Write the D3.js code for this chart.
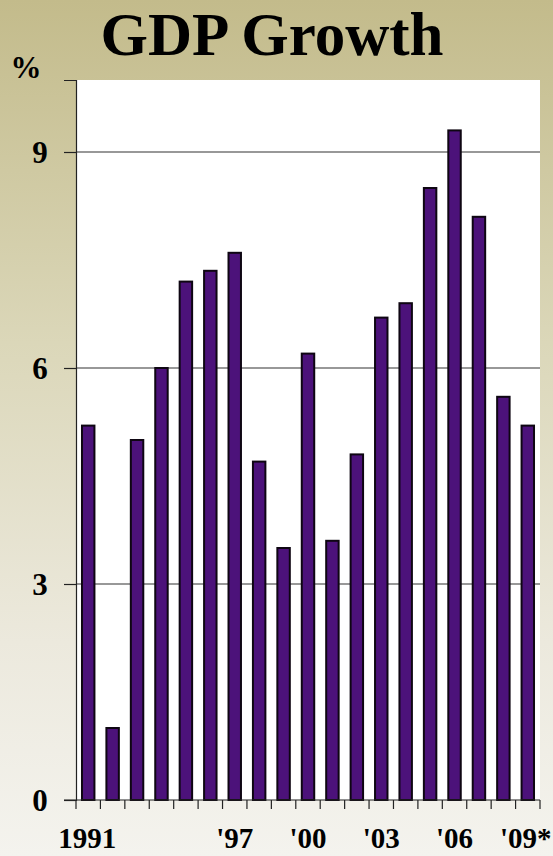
<!DOCTYPE html>
<html>
<head>
<meta charset="utf-8">
<script src="https://cdn.jsdelivr.net/npm/d3@7"></script>
<style>
  html, body { margin: 0; padding: 0; }
  body { width: 553px; height: 856px; overflow: hidden; }
</style>
</head>
<body>
<div id="chart"></div>
<script>
// data
const years = ["1991","1992","1993","1994","1995","1996","1997","1998","1999","2000",
               "2001","2002","2003","2004","2005","2006","2007","2008","2009"];
const growth = [5.2, 1.0, 5.0, 6.0, 7.2, 7.35, 7.6, 4.7, 3.5, 6.2,
                3.6, 4.8, 6.7, 6.9, 8.5, 9.3, 8.1, 5.6, 5.2];
const yTicks = [0, 3, 6, 9];
const xLabels = {"1991": "1991", "1997": "'97", "2000": "'00", "2003": "'03", "2006": "'06", "2009": "'09*"};

const W = 553, H = 856;
const plot = { left: 76, right: 540, top: 80, bottom: 800 };
const FONT = "Liberation Serif";

const svg = d3.select("#chart").append("svg")
  .attr("width", W).attr("height", H);

const defs = svg.append("defs");
const grad = defs.append("linearGradient").attr("id", "bg")
  .attr("x1", 0).attr("y1", 0).attr("x2", 0).attr("y2", 1);
grad.append("stop").attr("offset", "0%").attr("stop-color", "#c3bb8b");
grad.append("stop").attr("offset", "40%").attr("stop-color", "#dbd7b9");
grad.append("stop").attr("offset", "75%").attr("stop-color", "#ece9dd");
grad.append("stop").attr("offset", "100%").attr("stop-color", "#f4f3ee");

svg.append("rect").attr("width", W).attr("height", H).attr("fill", "url(#bg)");

// plot area
svg.append("rect")
  .attr("x", plot.left).attr("y", plot.top)
  .attr("width", plot.right - plot.left).attr("height", plot.bottom - plot.top)
  .attr("fill", "#fff");

const x = d3.scaleBand().domain(years).range([plot.left, plot.right]).paddingInner(0.49).paddingOuter(0.245);
const y = d3.scaleLinear().domain([0, 10]).range([plot.bottom, plot.top]);

const band = d3.scaleBand().domain(years).range([plot.left, plot.right]);

// gridlines
svg.append("g").selectAll("line")
  .data(yTicks.filter(d => d > 0))
  .join("line")
  .attr("x1", plot.left).attr("x2", plot.right)
  .attr("y1", d => y(d)).attr("y2", d => y(d))
  .attr("stroke", "#333").attr("stroke-width", 1.2);

// bars
svg.append("g").selectAll("rect")
  .data(years)
  .join("rect")
  .attr("x", d => x(d))
  .attr("y", (d, i) => y(growth[i]))
  .attr("width", x.bandwidth())
  .attr("height", (d, i) => plot.bottom - y(growth[i]))
  .attr("fill", "#4c127a")
  .attr("stroke", "#0e0612")
  .attr("stroke-width", 2);

// y axis
const yAxis = svg.append("g")
  .attr("transform", `translate(${plot.left},0)`)
  .call(d3.axisLeft(y).tickValues(yTicks).tickSize(12).tickFormat(""));
yAxis.select(".domain").attr("stroke", "#222").attr("stroke-width", 1.2);
yAxis.selectAll(".tick line").attr("stroke", "#222").attr("stroke-width", 1.2);

svg.append("g").selectAll("text")
  .data(yTicks)
  .join("text")
  .attr("x", 40).attr("y", d => y(d) + 11)
  .attr("text-anchor", "middle")
  .attr("font-family", FONT).attr("font-weight", "bold")
  .attr("font-size", 31)
  .text(d => d);

// x axis with ticks at band boundaries
const xAxis = svg.append("g").attr("transform", `translate(0,${plot.bottom})`);
xAxis.append("line").attr("x1", plot.left - 12).attr("x2", plot.right)
  .attr("stroke", "#222").attr("stroke-width", 1.2);
xAxis.selectAll("line.tk")
  .data(years.concat(["end"]))
  .join("line").attr("class", "tk")
  .attr("x1", d => d === "end" ? plot.right : band(d))
  .attr("x2", d => d === "end" ? plot.right : band(d))
  .attr("y1", 0).attr("y2", 9)
  .attr("stroke", "#222").attr("stroke-width", 1.2);

svg.append("g").selectAll("text")
  .data(years.filter(d => xLabels[d]))
  .join("text")
  .attr("x", d => band(d) + band.bandwidth() / 2 + (d === "2009" ? -2 : d === "1991" ? -1 : 0))
  .attr("y", 848)
  .attr("text-anchor", "middle")
  .attr("font-family", FONT).attr("font-weight", "bold")
  .attr("font-size", 29)
  .text(d => xLabels[d]);

// % unit
svg.append("text")
  .attr("x", 26).attr("y", 78)
  .attr("text-anchor", "middle")
  .attr("font-family", FONT).attr("font-weight", "bold")
  .attr("font-size", 31)
  .text("%");

// title
svg.append("text")
  .attr("x", 272).attr("y", 55)
  .attr("text-anchor", "middle")
  .attr("font-family", FONT).attr("font-weight", "bold")
  .attr("font-size", 61)
  .text("GDP Growth");
</script>
</body>
</html>
